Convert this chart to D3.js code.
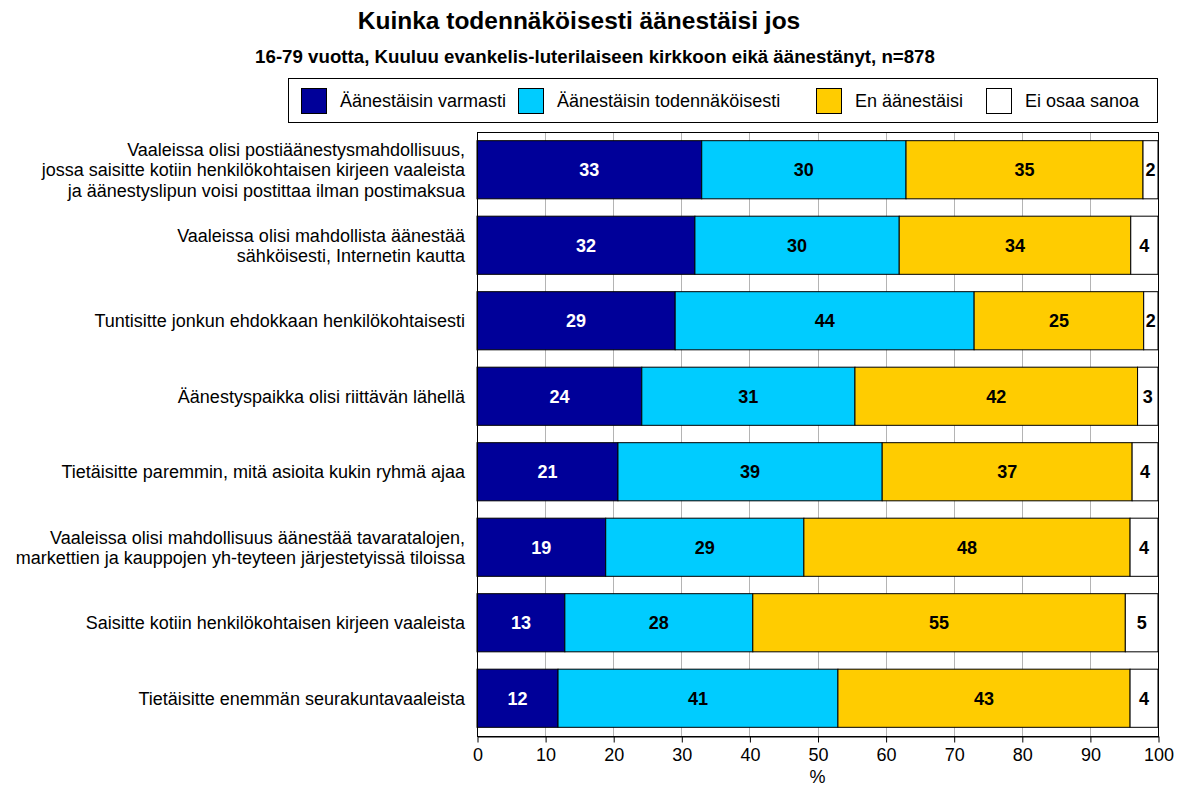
<!DOCTYPE html>
<html lang="fi">
<head>
<meta charset="UTF-8">
<title>Kuinka todennäköisesti äänestäisi jos</title>
<script src="https://cdnjs.cloudflare.com/ajax/libs/d3/7.8.5/d3.min.js"></script>
<style>
    body { margin: 0; background: #fff; font-family: Arial, "Liberation Sans", sans-serif; }
    svg { display: block; }
    .grid line { stroke: #b4b4b4; stroke-width: 1px; }
    .seg { stroke: #000; stroke-width: 1px; }
    .val { font-size: 18px; font-weight: bold; text-anchor: middle; }
    .cat { font-size: 18px; fill: #000; text-anchor: end; }
</style>
</head>
<body>
<svg width="1187" height="789"></svg>
<script>
    // categories, top to bottom (multi-line labels split on "|")
    const categories = [
        "Vaaleissa olisi postiäänestysmahdollisuus,|jossa saisitte kotiin henkilökohtaisen kirjeen vaaleista|ja äänestyslipun voisi postittaa ilman postimaksua",
        "Vaaleissa olisi mahdollista äänestää|sähköisesti, Internetin kautta",
        "Tuntisitte jonkun ehdokkaan henkilökohtaisesti",
        "Äänestyspaikka olisi riittävän lähellä",
        "Tietäisitte paremmin, mitä asioita kukin ryhmä ajaa",
        "Vaaleissa olisi mahdollisuus äänestää tavaratalojen,|markettien ja kauppojen yh-teyteen järjestetyissä tiloissa",
        "Saisitte kotiin henkilökohtaisen kirjeen vaaleista",
        "Tietäisitte enemmän seurakuntavaaleista"
    ];
    const seriesNames = ["Äänestäisin varmasti", "Äänestäisin todennäköisesti", "En äänestäisi", "Ei osaa sanoa"];
    const varmasti        = [33.0, 32.0, 29.1, 24.2, 20.7, 18.9, 12.9, 11.9];
    const todennakoisesti = [30.0, 30.0, 43.9, 31.3, 38.8, 29.1, 27.6, 41.1];
    const enAanestaisi    = [34.8, 34.0, 24.9, 41.5, 36.7, 47.9, 54.7, 42.9];
    const eiOsaa          = [2.2, 4.0, 2.1, 3.0, 3.8, 4.1, 4.8, 4.1];
    const xTicks = [0, 10, 20, 30, 40, 50, 60, 70, 80, 90, 100];
    const colors = ["#000099", "#00ccff", "#ffcc00", "#ffffff"];
    const labelColors = ["#fff", "#000", "#000", "#000"];

    const series = [varmasti, todennakoisesti, enAanestaisi, eiOsaa];
    const rows = categories.map((c, i) => {
        const r = { cat: c };
        seriesNames.forEach((s, j) => r[s] = series[j][i]);
        return r;
    });

    const svg = d3.select("svg");
    const plot = { left: 477, right: 1158, top: 132, bottom: 736 };

    const x = d3.scaleLinear().domain([0, 100]).range([plot.left, plot.right]);
    const y = d3.scaleBand().domain(d3.range(categories.length))
        .range([plot.top, plot.bottom]).paddingInner(0.23).paddingOuter(0.115);

    // title
    svg.append("text").attr("x", 579).attr("y", 29).attr("text-anchor", "middle")
        .style("font-size", "24.5px").style("font-weight", "bold")
        .text("Kuinka todennäköisesti äänestäisi jos");
    svg.append("text").attr("x", 595).attr("y", 63).attr("text-anchor", "middle")
        .style("font-size", "18.7px").style("font-weight", "bold")
        .text("16-79 vuotta, Kuuluu evankelis-luterilaiseen kirkkoon eikä äänestänyt, n=878");

    // legend
    const legend = svg.append("g");
    legend.append("rect").attr("x", 288.5).attr("y", 78.5).attr("width", 869).attr("height", 44)
        .attr("fill", "#fff").attr("stroke", "#000");
    const legendX = [301, 518, 816, 986];
    seriesNames.forEach((s, j) => {
        legend.append("rect").attr("x", legendX[j] + 0.5).attr("y", 88.5).attr("width", 25).attr("height", 25)
            .attr("fill", colors[j]).attr("stroke", "#000");
        legend.append("text").attr("x", legendX[j] + 39).attr("y", 107)
            .style("font-size", "18px").text(s);
    });

    // grid
    svg.append("g").attr("class", "grid").selectAll("line")
        .data(xTicks.slice(1, -1)).join("line")
        .attr("x1", d => Math.round(x(d)) + 0.5).attr("x2", d => Math.round(x(d)) + 0.5)
        .attr("y1", plot.top).attr("y2", plot.bottom);

    // stacked bars
    const stack = d3.stack().keys(seriesNames)(rows);
    const layers = svg.append("g").selectAll("g").data(stack).join("g")
        .attr("fill", (d, j) => colors[j]);
    layers.selectAll("rect").data(d => d).join("rect")
        .attr("class", "seg")
        .attr("x", d => x(d[0]))
        .attr("y", (d, i) => y(i))
        .attr("width", d => x(d[1]) - x(d[0]))
        .attr("height", y.bandwidth());
    layers.each(function (layer, j) {
        d3.select(this).selectAll("text.val").data(layer).join("text")
            .attr("class", "val")
            .attr("fill", labelColors[j])
            .attr("x", d => (x(d[0]) + x(d[1])) / 2)
            .attr("y", (d, i) => y(i) + y.bandwidth() / 2 + 6.5)
            .text(d => Math.round(d[1] - d[0]));
    });

    // plot frame
    svg.append("rect").attr("x", plot.left + 0.5).attr("y", plot.top + 0.5)
        .attr("width", plot.right - plot.left).attr("height", plot.bottom - plot.top)
        .attr("fill", "none").attr("stroke", "#000");

    // x axis
    const xAxis = svg.append("g").attr("transform", `translate(0.5,${plot.bottom + 0.5})`)
        .call(d3.axisBottom(x).tickValues(xTicks).tickSize(6).tickSizeOuter(0).tickPadding(6));
    xAxis.select(".domain").attr("stroke", "#000");
    xAxis.selectAll("text").style("font-size", "18px").style("font-family", "Arial, 'Liberation Sans', sans-serif").attr("fill", "#000");
    svg.append("text").attr("x", x(50)).attr("y", 783).attr("text-anchor", "middle")
        .style("font-size", "18px").text("%");

    // category labels
    const cats = svg.append("g").selectAll("text").data(categories).join("text")
        .attr("class", "cat")
        .attr("transform", (d, i) => `translate(465,${y(i) + y.bandwidth() / 2})`);
    cats.each(function (d) {
        const lines = d.split("|");
        const lh = 20.5;
        const off = -(lines.length - 1) * lh / 2 + 6.5;
        d3.select(this).selectAll("tspan").data(lines).join("tspan")
            .attr("x", 0).attr("y", (l, k) => off + k * lh).text(l => l);
    });
</script>
</body>
</html>
